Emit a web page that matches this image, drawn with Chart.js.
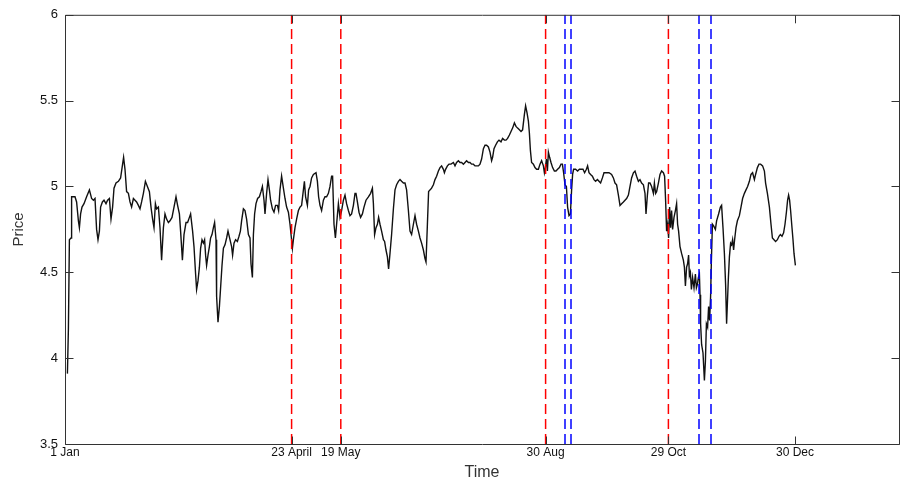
<!DOCTYPE html>
<html><head><meta charset="utf-8">
<script src="https://cdn.jsdelivr.net/npm/chart.js@4"></script>
<style>html,body{margin:0;padding:0;background:#fff}canvas{display:block}</style>
</head><body>
<canvas id="c" width="901" height="486"></canvas>
<script>
// x = day offset from 1 Jan (axis spans 0..417)
const days = [
1.2,1.7,2.2,3.0,3.3,5.0,5.8,6.7,7.2,7.8,
8.5,9.5,10.8,12.2,13.3,14.2,15.0,15.8,16.5,17.2,
17.8,18.7,19.5,20.5,21.3,22.2,23.0,23.8,24.5,25.5,
26.7,27.8,28.8,29.3,30.0,30.8,31.7,32.5,33.3,34.2,
35.0,35.8,36.7,37.5,38.3,39.2,40.2,41.2,42.2,43.0,
43.8,44.5,45.2,45.8,46.7,47.5,48.3,49.2,50.0,50.8,
51.7,52.5,53.5,54.5,55.5,56.3,57.2,57.8,58.7,59.5,
60.5,61.3,62.2,62.8,63.8,64.5,65.3,65.8,66.5,67.2,
67.8,68.5,69.2,69.8,70.3,70.8,71.5,72.2,72.8,73.5,
74.2,74.8,75.5,75.8,76.5,77.2,77.8,78.5,79.2,80.0,
80.8,81.5,82.5,83.3,83.8,84.5,85.3,86.2,87.0,87.7,
88.3,89.2,
90.0,90.8,91.7,92.5,93.0,93.7,94.2,94.8,95.5,96.3,
97.2,98.0,98.7,99.5,100.0,100.8,101.5,102.2,102.8,103.7,
104.5,105.3,106.2,106.8,107.5,108.3,109.2,110.0,110.8,111.7,
112.5,113.2,113.7,114.2,115.0,115.8,116.7,117.5,118.3,119.2,
119.7,120.3,121.2,121.8,122.5,123.3,124.2,125.5,126.2,126.8,
127.5,128.3,129.2,130.0,130.8,131.7,132.5,133.3,133.8,134.5,
135.2,135.8,136.7,137.5,138.3,139.2,140.0,140.8,141.7,142.5,
143.3,144.2,145.0,145.5,146.2,147.0,147.8,148.7,149.5,150.5,
151.7,152.8,153.7,154.2,154.8,155.5,156.2,156.8,157.5,158.3,
159.2,159.8,160.5,161.2,161.8,162.5,163.3,164.2,165.0,165.8,
166.7,167.5,168.3,169.2,170.0,170.8,171.7,172.5,173.3,174.2,
175.0,175.8,176.7,177.5,178.3,179.2,180.0,180.5,181.2,181.8,
182.5,183.3,184.2,185.0,185.8,186.7,187.5,188.3,189.2,189.7,
190.3,191.2,192.0,193.0,194.2,195.0,195.8,196.7,197.5,198.3,
199.2,200.0,200.8,201.7,202.5,203.3,204.2,205.0,205.8,206.7,
207.5,208.3,209.2,210.0,210.8,211.7,212.5,213.3,213.8,214.5,
215.3,216.2,217.0,218.0,218.8,219.7,220.5,221.3,222.2,223.0,
223.8,224.7,225.5,226.3,227.2,228.0,228.8,229.7,230.3,231.0,
231.7,232.2,232.7,233.3,234.2,235.0,235.8,236.7,237.5,238.3,
239.2,239.7,240.2,240.7,241.2,241.7,242.3,243.0,243.8,244.7,
245.5,246.3,247.2,248.0,248.7,249.3,250.0,250.7,251.3,252.0,
252.7,253.3,253.8,254.3,255.3,256.3,257.2,258.0,259.0,259.8,
260.7,261.3,262.0,262.8,263.7,264.5,265.3,266.2,267.0,267.8,
268.7,269.5,270.3,271.2,272.0,
273.3,274.2,275.0,275.8,276.7,277.5,278.3,279.2,280.0,280.8,
281.7,282.5,283.3,284.2,285.0,285.8,286.7,287.5,288.3,289.2,
290.0,290.5,291.2,291.8,292.5,293.3,294.2,294.7,295.3,295.8,
296.7,297.5,298.3,299.2,299.8,300.3,300.8,301.3,301.8,302.3,
302.8,303.3,303.8,304.5,305.2,305.8,306.3,306.8,307.5,308.3,
309.2,309.7,310.2,310.8,311.3,311.8,312.2,312.7,313.2,313.8,
314.5,315.2,315.7,316.2,316.7,317.2,317.5,317.8,318.3,319.0,
319.7,320.2,320.7,321.3,321.8,322.3,322.8,323.2,323.7,324.3,
325.2,325.8,326.8,327.7,328.3,329.0,329.7,330.3,330.8,331.2,
331.7,332.2,332.8,333.3,333.8,334.3,334.8,335.5,336.2,337.2,
338.0,338.8,339.7,340.5,341.3,342.2,343.0,343.8,344.7,345.3,
346.2,347.0,347.8,348.8,349.7,350.3,351.2,352.2,353.0,353.7,
354.5,355.3,356.2,357.0,357.7,358.5,359.3,360.0,360.7,361.3,
361.8,362.3,362.8,363.5,364.0,364.5,365.2
];
const price = [
3.91,4.17,4.69,4.70,4.94,4.94,4.91,4.80,4.76,4.84,
4.88,4.90,4.94,4.98,4.93,4.92,4.93,4.75,4.69,4.74,
4.88,4.91,4.92,4.90,4.92,4.93,4.81,4.88,4.99,5.02,
5.03,5.05,5.13,5.17,5.10,4.97,4.96,4.91,4.88,4.93,
4.92,4.91,4.89,4.87,4.91,4.96,5.03,5.00,4.97,4.88,
4.81,4.76,4.90,4.87,4.88,4.76,4.57,4.76,4.84,4.81,
4.79,4.80,4.82,4.88,4.94,4.89,4.84,4.74,4.57,4.72,
4.79,4.79,4.82,4.84,4.74,4.65,4.49,4.40,4.45,4.53,
4.64,4.69,4.67,4.69,4.60,4.54,4.60,4.65,4.70,4.72,
4.76,4.79,4.69,4.36,4.21,4.30,4.41,4.54,4.64,4.66,
4.70,4.74,4.69,4.65,4.60,4.67,4.69,4.68,4.71,4.74,
4.80,4.87,
4.86,4.81,4.72,4.70,4.55,4.47,4.72,4.84,4.90,4.93,
4.94,4.97,5.00,4.92,4.84,4.96,5.04,4.98,4.92,4.87,
4.85,4.89,4.89,4.86,4.98,5.06,4.99,4.93,4.88,4.85,
4.78,4.70,4.64,4.69,4.76,4.81,4.86,4.88,4.89,4.98,
5.03,4.94,4.89,4.98,5.00,5.05,5.07,5.08,5.03,4.94,
4.89,4.86,4.92,4.94,4.94,4.96,5.00,5.06,5.06,4.78,
4.70,4.78,4.90,4.82,4.86,4.92,4.95,4.90,4.86,4.83,
4.84,4.89,4.96,4.96,4.91,4.85,4.82,4.84,4.88,4.92,
4.94,4.96,4.99,4.90,4.72,4.76,4.78,4.82,4.78,4.74,
4.69,4.68,4.63,4.59,4.52,4.61,4.72,4.87,4.98,5.01,
5.03,5.04,5.03,5.02,5.02,4.98,4.86,4.74,4.72,4.78,
4.83,4.78,4.74,4.70,4.67,4.63,4.58,4.56,4.78,4.97,
4.98,4.99,5.01,5.04,5.06,5.09,5.11,5.12,5.10,5.08,
5.10,5.12,5.13,5.13,5.14,5.12,5.14,5.15,5.14,5.14,
5.13,5.14,5.15,5.14,5.14,5.13,5.13,5.12,5.12,5.12,
5.13,5.16,5.22,5.24,5.24,5.23,5.20,5.15,5.17,5.22,
5.24,5.26,5.27,5.26,5.28,5.27,5.27,5.28,5.30,5.32,
5.34,5.37,5.35,5.34,5.33,5.32,5.33,5.42,5.47,5.43,
5.38,5.31,5.21,5.14,5.13,5.11,5.10,5.10,5.13,5.15,
5.12,5.08,5.11,5.16,5.09,5.20,5.17,5.14,5.11,5.09,
5.09,5.10,5.11,5.13,5.13,5.08,5.01,5.00,4.88,4.83,
4.84,4.98,5.07,5.10,5.10,5.09,5.10,5.10,5.10,5.08,
5.10,5.12,5.08,5.07,5.06,5.04,5.03,5.04,5.03,5.02,
5.05,5.08,5.08,5.08,5.08,
5.07,5.05,5.02,5.01,4.95,4.89,4.90,4.91,4.92,4.93,
4.95,5.00,5.05,5.08,5.09,5.06,5.03,5.04,5.02,5.01,
4.96,4.84,4.95,5.02,5.02,5.00,4.96,5.02,4.96,4.97,
5.02,5.07,5.09,5.08,5.06,4.92,4.74,4.78,4.70,4.88,
4.76,4.86,4.75,4.82,4.86,4.90,4.78,4.74,4.65,4.61,
4.57,4.53,4.42,4.53,4.55,4.60,4.48,4.50,4.40,4.47,
4.41,4.49,4.41,4.43,4.47,4.49,4.37,4.20,4.08,4.03,
3.87,3.98,4.20,4.18,4.30,4.22,4.36,4.57,4.78,4.77,
4.75,4.80,4.84,4.88,4.89,4.76,4.61,4.43,4.20,4.32,
4.47,4.59,4.67,4.66,4.69,4.63,4.69,4.76,4.80,4.83,
4.88,4.93,4.96,4.98,5.00,5.03,5.07,5.08,5.04,5.07,
5.11,5.13,5.13,5.12,5.09,5.02,4.96,4.88,4.78,4.70,
4.69,4.68,4.69,4.71,4.72,4.71,4.73,4.78,4.85,4.92,
4.95,4.92,4.86,4.76,4.69,4.61,4.54
];
const tickDays = [0, 113.3, 137.9, 240.3, 301.7, 365];
const tickLabels = ['1 Jan', '23 April', '19 May', '30 Aug', '29 Oct', '30 Dec'];
const redLines = [113.3, 137.9, 240.3, 301.7];
const blueLines = [250, 253, 317, 323];
const yTicks = [3.5, 4, 4.5, 5, 5.5, 6];
const X_MAX = 417, Y_MIN = 3.5, Y_MAX = 6;

const FONT = "'Liberation Sans', Arial, Helvetica, sans-serif";

function vline(v, color) {
  return {
    data: [{x: v, y: Y_MIN}, {x: v, y: Y_MAX}],
    borderColor: color, borderWidth: 1.5, borderDash: [10, 5],
    pointRadius: 0, fill: false, order: 1
  };
}

const boxPlugin = {
  id: 'box',
  afterDraw(chart) {
    const {ctx, chartArea: a, scales: {x, y}} = chart;
    ctx.save();
    ctx.strokeStyle = '#333';
    ctx.lineWidth = 1;
    const L = a.left + 0.5, T = a.top + 0.5, R = a.right + 0.5, B = a.bottom + 0.5;
    ctx.beginPath();
    ctx.moveTo(L, T); ctx.lineTo(R, T); ctx.lineTo(R, B); ctx.lineTo(L, B); ctx.closePath();
    const tl = 8;
    y.ticks.forEach(t => {
      const py = Math.round(y.getPixelForValue(t.value)) + 0.5;
      ctx.moveTo(L, py); ctx.lineTo(L + tl, py);
      ctx.moveTo(R, py); ctx.lineTo(R - tl, py);
    });
    x.ticks.forEach(t => {
      const px = Math.round(x.getPixelForValue(t.value)) + 0.5;
      ctx.moveTo(px, B); ctx.lineTo(px, B - tl);
      ctx.moveTo(px, T); ctx.lineTo(px, T + tl);
    });
    ctx.stroke();
    ctx.restore();
  }
};

const datasets = [];
redLines.forEach(v => datasets.push(vline(v, '#ff0000')));
blueLines.forEach(v => datasets.push(vline(v, '#0000ff')));
datasets.push({
  data: days.map((d, i) => ({x: d, y: price[i]})),
  borderColor: '#111', borderWidth: 1.4, pointRadius: 0, fill: false,
  tension: 0, order: 2
});

new Chart(document.getElementById('c'), {
  type: 'line',
  data: {datasets},
  options: {
    responsive: false, animation: false, events: [],
    layout: {padding: {top: 14, right: 2, left: 0, bottom: 0}},
    plugins: {legend: {display: false}, tooltip: {enabled: false}},
    scales: {
      x: {
        type: 'linear', min: 0, max: X_MAX,
        afterFit: s => { s.height = 42; },
        afterBuildTicks: s => { s.ticks = tickDays.map(v => ({value: v})); },
        grid: {display: false, drawTicks: false},
        border: {display: false},
        ticks: {
          autoSkip: false, maxRotation: 0, padding: 1, color: '#111',
          font: {family: FONT, size: 12},
          callback: (v, i) => tickLabels[i]
        },
        title: {display: true, text: 'Time', color: '#333',
          font: {family: FONT, size: 16}, padding: {top: 0, bottom: 4}}
      },
      y: {
        type: 'linear', min: Y_MIN, max: Y_MAX,
        afterFit: s => { s.width = 65; },
        afterBuildTicks: s => { s.ticks = yTicks.map(v => ({value: v})); },
        grid: {display: false, drawTicks: false},
        border: {display: false},
        ticks: {
          padding: 7, color: '#111',
          font: {family: FONT, size: 13},
          callback: v => String(v)
        },
        title: {display: true, text: 'Price', color: '#333',
          font: {family: FONT, size: 15}, padding: {top: 10, bottom: 0}}
      }
    }
  },
  plugins: [boxPlugin]
});
</script>
</body></html>
